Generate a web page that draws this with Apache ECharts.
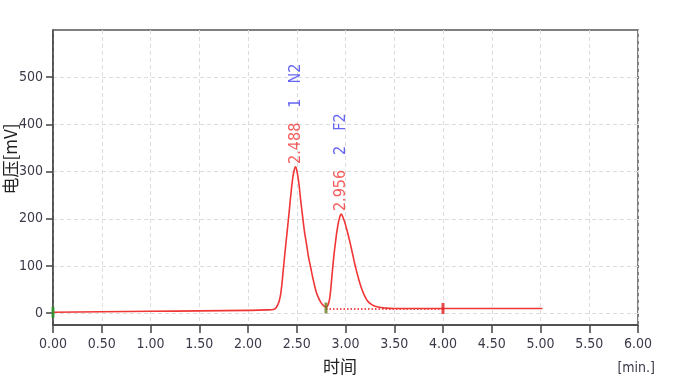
<!DOCTYPE html>
<html><head><meta charset="utf-8">
<script src="https://cdn.jsdelivr.net/npm/echarts@6/dist/echarts.min.js"></script>
<style>html,body{margin:0;padding:0;background:#fff}#c{width:677px;height:379px}</style>
</head><body><div id="c"></div>
<script>
// chromatogram trace (time in min, signal in mV)
const traceTime = [0.00,0.50,1.00,1.50,2.00,2.20,2.26,2.29,2.32,2.34,2.36,2.38,2.40,2.42,2.44,2.46,2.475,2.488,2.50,2.52,2.54,2.56,2.58,2.60,2.62,2.64,2.67,2.70,2.72,2.75,2.78,2.80,2.82,2.84,2.86,2.88,2.90,2.92,2.94,2.956,2.97,2.99,3.02,3.046,3.07,3.10,3.13,3.166,3.20,3.234,3.28,3.336,3.40,3.50,4.00,4.50,5.02];
const traceValue = [2,3,4,5,6,7,8,12,26,48,88,130,170,210,252,288,304,310,303,278,240,205,172,147,120,100,70,45,34,22,15,13,17,35,77,120,155,184,203,210,205,194,172,150,128,100,76,52,35,24,17,13,11,10,10,10,10];
// integration baseline (dotted)
const baselineTime = [2.80,4.00];
const baselineValue = [9,9];
// peak table
const peakTimes = [2.488,2.956];
const peakHeights = [310,210];
const peakIds = ['1','2'];
const peakNames = ['N2','F2'];
// integration event markers
const markerTimes = [0.00,2.80,4.00];
const markerValues = [2,11,10];
const markerColors = ['#2a9a2a','#6b7a1e','#e02020'];
// axis ticks
const yTicks = [0,100,200,300,400,500];

const FONT = '"DejaVu Sans Condensed","DejaVu Sans",sans-serif';
const chart = echarts.init(document.getElementById('c'), null, {renderer:'canvas'});
chart.setOption({
  animation:false,
  backgroundColor:'#fff',
  grid:{left:53,top:30,right:39,bottom:54,show:true,borderColor:'#555',borderWidth:1.5,backgroundColor:'transparent'},
  xAxis:{type:'value',min:0,max:6,interval:0.5,
    axisLine:{show:true,onZero:false,lineStyle:{color:'#444',width:1.5}},
    axisTick:{show:true,length:8,lineStyle:{color:'#444',width:1.5}},
    axisLabel:{margin:12,fontFamily:FONT,fontSize:14,color:'#3a3a4a',formatter:v=>v.toFixed(2),showMinLabel:true,showMaxLabel:true},
    splitLine:{show:true,lineStyle:{color:'#dcdcdc',type:[4,3],width:1}}
  },
  yAxis:{type:'value',min:-25,max:600,
    axisLine:{show:true,onZero:false,lineStyle:{color:'#444',width:1.5}},
    axisTick:{show:true,length:7,customValues:yTicks,lineStyle:{color:'#444',width:1.5}},
    axisLabel:{margin:10,fontFamily:FONT,fontSize:14,color:'#3a3a4a',customValues:yTicks},
    splitLine:{show:true,lineStyle:{color:'#dcdcdc',type:[4,3],width:1}}
  },
  graphic:[
    {type:'text',x:11,y:159,rotation:Math.PI/2,style:{text:'电压[mV]',font:'17px "Noto Sans CJK SC",sans-serif',fill:'#222',align:'center',verticalAlign:'middle'}},
    {type:'text',x:340,y:367,style:{text:'时间',font:'17px "Noto Sans CJK SC",sans-serif',fill:'#222',align:'center',verticalAlign:'middle'}},
    {type:'text',x:655,y:368,style:{text:'[min.]',font:'14px '+FONT,fill:'#3a3a4a',align:'right',verticalAlign:'middle'}}
  ],
  series:[
    {type:'line',data:traceTime.map((t,i)=>[t,traceValue[i]]),smooth:0.5,showSymbol:false,
     lineStyle:{color:'#f03535',width:1.6},z:3},
    {type:'line',data:baselineTime.map((t,i)=>[t,baselineValue[i]]),showSymbol:false,
     lineStyle:{color:'#f05050',width:2,type:[1.5,2]},z:2},
    {type:'scatter',data:markerTimes.map((t,i)=>({value:[t,markerValues[i]],itemStyle:{color:markerColors[i]}})),
     symbol:'rect',symbolSize:[3,11],z:4},
    {type:'scatter',data:peakTimes.map((t,i)=>[t,peakHeights[i]]),symbolSize:0,z:5,
     label:{show:true,position:'top',distance:3,rotate:90,align:'left',verticalAlign:'middle',
       formatter:p=>'{a|'+peakTimes[p.dataIndex].toFixed(3)+'}{b|'+peakIds[p.dataIndex]+'}{c|'+peakNames[p.dataIndex]+'}',
       rich:{
         a:{fontFamily:FONT,fontSize:16,color:'#f03535'},
         b:{fontFamily:FONT,fontSize:16,color:'#4040f0',padding:[0,0,0,15]},
         c:{fontFamily:FONT,fontSize:16,color:'#4040f0',padding:[0,0,0,15]}
       }}}
  ]
});
</script></body></html>
